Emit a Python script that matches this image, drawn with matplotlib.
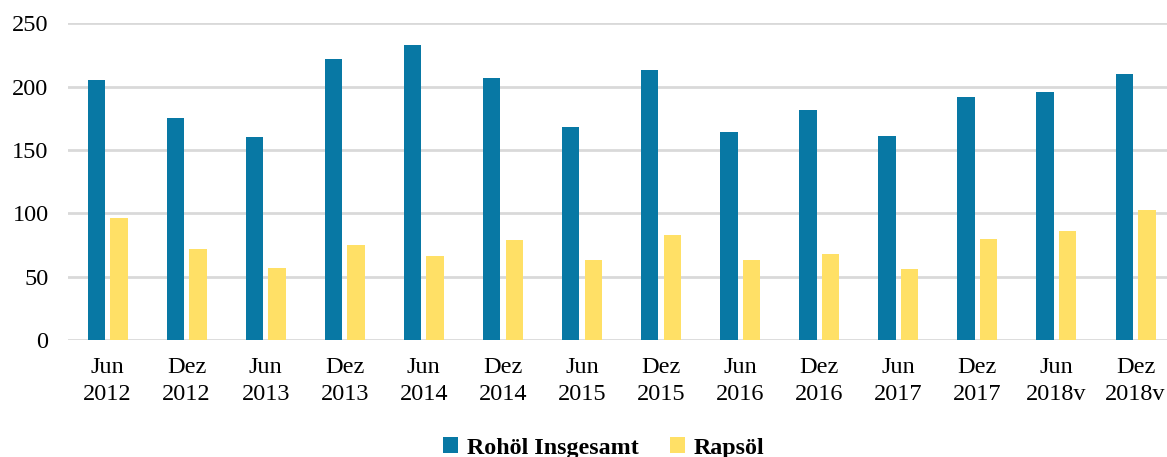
import numpy as np
import matplotlib
matplotlib.use("Agg")
from matplotlib import pyplot as plt

# Daten
kategorien = ["Jun\n2012", "Dez\n2012", "Jun\n2013", "Dez\n2013", "Jun\n2014", "Dez\n2014",
              "Jun\n2015", "Dez\n2015", "Jun\n2016", "Dez\n2016", "Jun\n2017", "Dez\n2017",
              "Jun\n2018v", "Dez\n2018v"]
rohoel = [205, 175, 160, 222, 233, 207, 168, 213, 164, 182, 161, 192, 196, 210]
rapsoel = [96, 72, 57, 75, 66, 79, 63, 83, 63, 68, 56, 80, 86, 103]
y_ticks = [0, 50, 100, 150, 200, 250]

plt.rcParams['font.family'] = ['Liberation Serif', 'DejaVu Serif']

fig = plt.figure(figsize=(11.67, 4.57), dpi=100)
ax = fig.add_axes([0.0583, 0.256, 0.9486, 0.6926])

x = np.arange(len(kategorien))
w = 0.22
ax.bar(x - 0.143, rohoel, w, color='#0878A4', label='Rohöl Insgesamt', zorder=3)
ax.bar(x + 0.143, rapsoel, w, color='#FFE066', label='Rapsöl', zorder=3)

ax.set_xlim(-0.5, len(kategorien) - 0.5)
ax.set_ylim(0, 250)
ax.set_yticks(y_ticks)
ax.set_xticks(x)
ax.set_xticklabels(kategorien, fontsize=17.5, linespacing=1.4)
ax.tick_params(axis='y', labelsize=17.5, length=0, pad=14)
ax.tick_params(axis='x', length=0, pad=12)
ax.grid(axis='y', color='#D9D9D9', linewidth=2, zorder=0)
for s in ax.spines.values():
    s.set_visible(False)

# Legende unten
leg = fig.legend(loc='center', bbox_to_anchor=(0.517, 0.02), ncol=2, frameon=False,
                 prop={'weight': 'bold', 'size': 17.3}, handlelength=0.65, handleheight=0.65,
                 handletextpad=0.35, columnspacing=1.3)

fig.savefig('out.png', dpi=100)
